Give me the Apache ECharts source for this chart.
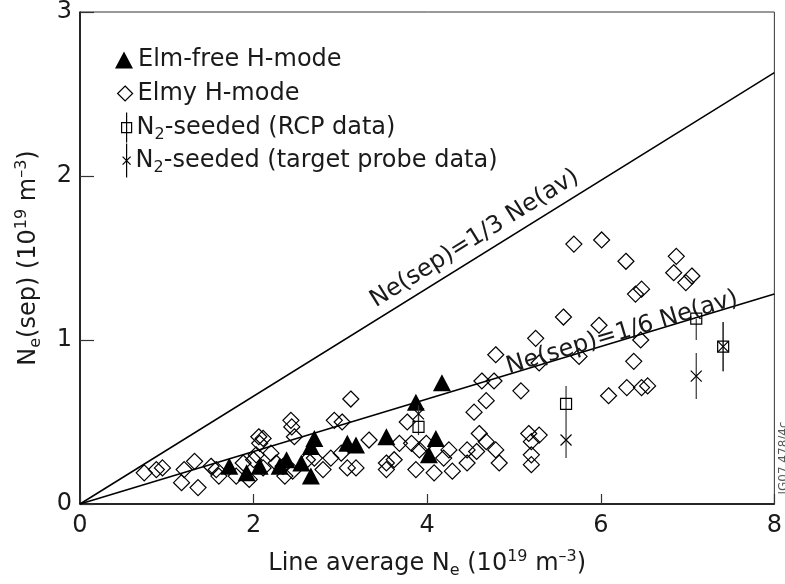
<!DOCTYPE html>
<html><head><meta charset="utf-8">
<script src="https://cdn.jsdelivr.net/npm/echarts@6/dist/echarts.min.js"></script>
<style>html,body{margin:0;padding:0;background:#fff}#c{width:785px;height:584px}</style>
</head><body><div id="c"></div>
<script>
const FONT = 'DejaVu Sans';
const TXT = '#1a1a1a';

const xRange = [0, 8];
const yRange = [0, 3];
const xStep = 2;
const yStep = 1;

const elmFree = [
  [1.72,0.23],[1.92,0.19],[2.07,0.23],[2.30,0.23],[2.38,0.27],[2.55,0.25],[2.66,0.17],
  [2.70,0.40],[2.66,0.35],[3.08,0.37],[3.18,0.36],[3.53,0.41],[3.87,0.62],[4.17,0.74],
  [4.10,0.40],[4.02,0.30]
];

const elmy = [
  [0.74,0.19],[0.88,0.21],[0.95,0.22],[1.20,0.21],[1.17,0.13],[1.32,0.26],[1.36,0.10],
  [1.51,0.23],[1.60,0.17],[1.57,0.21],[1.80,0.17],[1.88,0.25],[1.95,0.15],[2.06,0.41],
  [2.07,0.37],[2.03,0.30],[2.11,0.22],[2.20,0.31],[2.26,0.25],[2.34,0.23],[2.36,0.17],
  [2.43,0.51],[2.44,0.47],[2.47,0.41],[2.45,0.20],[2.62,0.27],[2.70,0.28],[2.80,0.21],
  [2.89,0.28],[2.93,0.51],[3.02,0.50],[3.12,0.64],[3.01,0.31],[3.08,0.22],[3.18,0.22],
  [3.33,0.39],[3.53,0.25],[3.62,0.27],[3.53,0.21],[2.11,0.40],[2.00,0.27],
  [3.68,0.37],[3.77,0.50],[3.82,0.37],[3.91,0.33],[3.99,0.37],[3.87,0.21],[4.08,0.19],
  [4.19,0.28],[4.25,0.33],[4.29,0.20],[4.46,0.25],[4.46,0.33],[4.57,0.32],[4.60,0.43],
  [4.68,0.38],[4.79,0.33],[4.83,0.25],[4.54,0.56],[4.68,0.63],[4.63,0.75],[4.77,0.75],
  [4.79,0.91],[5.08,0.69],[5.17,0.43],[5.29,0.42],[5.20,0.38],[5.20,0.30],[5.20,0.24],
  [5.25,1.01],[5.29,0.86],[5.57,1.14],[5.75,0.90],[5.98,1.09],[5.69,1.585],[6.01,1.61],
  [6.09,0.66],[6.30,0.71],[6.47,0.71],[6.54,0.72],[6.38,0.87],[6.46,1.00],[6.40,1.28],
  [6.47,1.31],[6.29,1.48],[6.87,1.51],[6.84,1.41],[7.05,1.39],[6.98,1.35]
];

const rcp = [[3.90,0.47],[5.60,0.61],[7.10,1.13],[7.41,0.96]];
const rcpErr = [[3.90,0.42,0.60],[5.60,0.50,0.72],[7.10,1.00,1.13],[7.41,0.81,1.11]];
const probe = [[3.90,0.55],[5.60,0.39],[7.10,0.78],[7.41,0.96]];
const probeErr = [[3.90,0.50,0.60],[5.60,0.28,0.50],[7.10,0.64,0.92],[7.41,0.81,1.11]];

const lineThird = [[0,0],[8,2.63]];
const lineSixth = [[0,0],[8,1.28]];
const labelThird = [[3.72,1.224],[5.58,1.836]];
const labelSixth = [[5.30,0.848],[7.24,1.158]];

const names = ['Elm-free H-mode','Elmy H-mode','N2-seeded (RCP data)','N2-seeded (target probe data)'];

const rich = {
  sub:{fontSize:16,lineHeight:16,verticalAlign:'bottom',fontFamily:FONT,color:TXT},
  sup:{fontSize:16,lineHeight:16,verticalAlign:'top',fontFamily:FONT,color:TXT}
};
const textBase = {fontFamily:FONT,fontSize:24,color:TXT,lineHeight:30,rich:rich};

function legendFmt(n){
  if (n.indexOf('N2') === 0) return 'N{sub|2}' + n.slice(2);
  return n;
}

function errRender(params, api){
  const p1 = api.coord([api.value(0), api.value(1)]);
  const p2 = api.coord([api.value(0), api.value(2)]);
  return {type:'line', shape:{x1:p1[0],y1:p1[1],x2:p2[0],y2:p2[1]},
          style:{stroke:'#333',lineWidth:1.2}};
}

function mkLegend(name, icon, top, left, w, h, style){
  return {
    data:[{name:name, icon:icon, itemStyle:style}],
    orient:'vertical', left:left, top:top, padding:0,
    itemWidth:w, itemHeight:h, formatter:legendFmt,
    textStyle:textBase
  };
}

const openStyle = {color:'rgba(255,255,255,0)',borderColor:'#000',borderWidth:1.2,opacity:1};

function lineLabel(text, dist){
  return {show:true,position:'insideMiddleTop',distance:dist,formatter:text,
          fontFamily:FONT,fontSize:24,color:TXT};
}

const chart = echarts.init(document.getElementById('c'));
chart.setOption({
  animation:false,
  backgroundColor:'#fff',
  grid:{left:80,right:9,top:10,bottom:80,show:true,borderColor:'#333',borderWidth:1,backgroundColor:'transparent'},
  xAxis:{
    type:'value', min:xRange[0], max:xRange[1], interval:xStep,
    axisLine:{lineStyle:{color:'#000',width:1.5}},
    axisTick:{inside:true,length:10,lineStyle:{color:'#333',width:1.2}},
    axisLabel:{fontFamily:FONT,fontSize:24,color:TXT,margin:10},
    splitLine:{show:false},
    name:'Line average N{sub|e} (10{sup|19} m{sup|–3})',
    nameLocation:'middle', nameGap:45, nameTextStyle:textBase
  },
  yAxis:{
    type:'value', min:yRange[0], max:yRange[1], interval:yStep,
    axisLine:{lineStyle:{color:'#000',width:1.5}},
    axisTick:{inside:true,length:14,lineStyle:{color:'#333',width:1.2}},
    axisLabel:{fontFamily:FONT,fontSize:24,color:TXT,margin:8},
    splitLine:{show:false},
    name:'N{sub|e}(sep) (10{sup|19} m{sup|–3})',
    nameLocation:'middle', nameGap:36, nameTextStyle:textBase
  },
  legend:[
    mkLegend(names[0],'triangle',45,115,18,17,{color:'#000',opacity:1}),
    mkLegend(names[1],'diamond',78.5,117,15,15,openStyle),
    mkLegend(names[2],'path://M5,0V30M0,10H10V20H0Z',112,121,10,30,openStyle),
    mkLegend(names[3],'path://M5,0V34M1,13L9,21M9,13L1,21',143,122,8,34,openStyle)
  ],
  graphic:[{
    type:'text', x:784, y:458, rotation:Math.PI/2,
    style:{text:'JG07.478/4c',fontFamily:FONT,fontSize:12,fill:'#555',align:'center',verticalAlign:'middle'}
  }],
  series:[
    {type:'line', data:lineThird, symbol:'none', silent:true,
     lineStyle:{color:'#000',width:1.5}, z:1},
    {type:'line', data:lineSixth, symbol:'none', silent:true,
     lineStyle:{color:'#000',width:1.5}, z:1},
    {type:'line', data:labelThird, symbol:'none', silent:true, z:6,
     lineStyle:{color:'rgba(0,0,0,0)',width:0},
     markLine:{silent:true, symbol:['none','none'],
       lineStyle:{color:'rgba(0,0,0,0)',width:0,type:'solid'},
       label:lineLabel('Ne(sep)=1/3 Ne(av)',5),
       data:[[{coord:labelThird[0]},{coord:labelThird[1]}]]}},
    {type:'line', data:labelSixth, symbol:'none', silent:true, z:6,
     lineStyle:{color:'rgba(0,0,0,0)',width:0},
     markLine:{silent:true, symbol:['none','none'],
       lineStyle:{color:'rgba(0,0,0,0)',width:0,type:'solid'},
       label:lineLabel('Ne(sep)=1/6 Ne(av)',-5),
       data:[[{coord:labelSixth[0]},{coord:labelSixth[1]}]]}},
    {name:names[1], type:'scatter', data:elmy, symbol:'diamond', symbolSize:16,
     itemStyle:openStyle, z:3},
    {name:names[0], type:'scatter', data:elmFree, symbol:'triangle', symbolSize:[18,17],
     itemStyle:{color:'#000',opacity:1}, z:4},
    {name:names[2], type:'scatter', data:rcp, symbol:'rect', symbolSize:11,
     itemStyle:openStyle, z:5},
    {name:names[3], type:'scatter', data:probe, symbol:'path://M0,0L10,10M10,0L0,10', symbolSize:11,
     itemStyle:openStyle, z:5},
    {name:names[2], type:'custom', data:rcpErr, renderItem:errRender, encode:{x:0,y:[1,2]}, z:5},
    {name:names[3], type:'custom', data:probeErr, renderItem:errRender, encode:{x:0,y:[1,2]}, z:5}
  ]
});
</script>
</body></html>
